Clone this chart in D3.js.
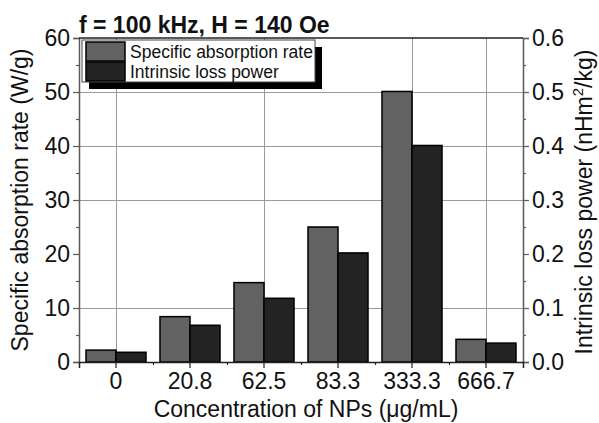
<!DOCTYPE html>
<html><head><meta charset="utf-8">
<script src="https://cdn.jsdelivr.net/npm/d3@7"></script>
<style>
body{margin:0;background:#fff;}
svg text{font-family:"Liberation Sans",Arial,sans-serif;}
</style></head>
<body><svg id="c" width="599" height="423"></svg>
<script>
const categories = ["0","20.8","62.5","83.3","333.3","666.7"];
const sarValues = [2.2, 8.4, 14.7, 25.0, 50.1, 4.2];
const ilpValues = [0.018, 0.068, 0.118, 0.202, 0.401, 0.035];
const leftTicks = [0,10,20,30,40,50,60];
const rightTicks = [0.0,0.1,0.2,0.3,0.4,0.5,0.6];
const hGrid = [10,30,40,50];
const vGridCats = ["0","62.5","333.3","666.7"];
const seriesNames = ["Specific absorption rate","Intrinsic loss power"];
const seriesColors = ["#626262","#232323"];

const svg = d3.select("#c");
const L=79, R=523, T=38, B=362;
const x0 = d3.scaleBand().domain(categories).range([L,R]).padding(0);
const x1 = d3.scaleBand().domain([0,1]).range([0,x0.bandwidth()]).paddingInner(0).paddingOuter(0.233);
const yL = d3.scaleLinear().domain([0,60]).range([B,T]);
const yR = d3.scaleLinear().domain([0,0.6]).range([B,T]);

// grid (dotted, rendered as fine gray lines)
const gridG = svg.append("g").attr("class","grid");
gridG.selectAll("rect.gh").data(hGrid).join("rect").attr("class","gh")
  .attr("x",L).attr("width",R-L)
  .attr("y",d=>Math.round(yL(d))).attr("height",1)
  .attr("fill","#9a9a9a");
gridG.selectAll("rect.gv").data(vGridCats).join("rect").attr("class","gv")
  .attr("x",d=>Math.round(x0(d)+x0.bandwidth()/2)).attr("width",1)
  .attr("y",T).attr("height",B-T)
  .attr("fill","#9a9a9a");

// bars
const groups = svg.append("g").selectAll("g").data(categories).join("g")
 .attr("transform",d=>`translate(${x0(d)},0)`);
groups.append("rect")
 .attr("x",x1(0)).attr("width",x1.bandwidth())
 .attr("y",(d,i)=>yL(sarValues[i])).attr("height",(d,i)=>B-yL(sarValues[i]))
 .attr("fill",seriesColors[0]).attr("stroke","#000").attr("stroke-width",1.5);
groups.append("rect")
 .attr("x",x1(1)).attr("width",x1.bandwidth())
 .attr("y",(d,i)=>yR(ilpValues[i])).attr("height",(d,i)=>B-yR(ilpValues[i]))
 .attr("fill",seriesColors[1]).attr("stroke","#000").attr("stroke-width",1.5);

// axes
const fs = 23;
const axL = svg.append("g").attr("transform",`translate(${L},0)`)
 .call(d3.axisLeft(yL).tickValues(leftTicks).tickSize(6).tickPadding(3).tickFormat(d3.format("d")));
const axLm = svg.append("g").attr("transform",`translate(${L},0)`)
 .call(d3.axisLeft(yL).tickValues(d3.range(5,60,10)).tickSize(3).tickFormat(""));
const axR = svg.append("g").attr("transform",`translate(${R},0)`)
 .call(d3.axisRight(yR).tickValues(rightTicks).tickSize(6).tickPadding(3).tickFormat(d3.format(".1f")));
const axRm = svg.append("g").attr("transform",`translate(${R},0)`)
 .call(d3.axisRight(yR).tickValues(d3.range(0.05,0.6,0.1)).tickSize(3).tickFormat(""));
const axB = svg.append("g").attr("transform",`translate(0,${B})`)
 .call(d3.axisBottom(x0).tickSize(6).tickPadding(5));
const axBm = svg.append("g").attr("transform",`translate(0,${B})`)
 .call(d3.axisBottom(d3.scaleLinear().domain([0,6]).range([L,R])).tickValues([1,2,3,4,5]).tickSize(3).tickFormat(""));
[axL,axLm,axR,axRm].forEach(a=>{a.select(".domain").attr("stroke","#5a5a5a").attr("stroke-width",1.5);a.selectAll(".tick line").attr("stroke","#5a5a5a").attr("stroke-width",1.2);});
[axB,axBm].forEach(a=>{a.select(".domain").attr("stroke","#222").attr("stroke-width",1.5);a.selectAll(".tick line").attr("stroke","#222").attr("stroke-width",1.2);});
[axLm,axRm,axBm].forEach(a=>a.select(".domain").remove());
svg.selectAll(".tick text").attr("font-size",fs).attr("fill","#111").style("font-family","'Liberation Sans',Arial,sans-serif");
// top border
svg.append("line").attr("x1",L).attr("x2",R).attr("y1",T).attr("y2",T).attr("stroke","#222").attr("stroke-width",1.5);

// axis titles
svg.append("text").attr("transform",`translate(28,${(T+B)/2}) rotate(-90)`)
 .attr("text-anchor","middle").attr("font-size",fs).attr("fill","#111")
 .text("Specific absorption rate (W/g)");
const rt = svg.append("text").attr("transform",`translate(592,${(T+B)/2+2}) rotate(-90)`)
 .attr("text-anchor","middle").attr("font-size",fs).attr("fill","#111");
rt.append("tspan").text("Intrinsic loss power (nHm");
rt.append("tspan").attr("font-size",15).attr("dy",-9).text("2");
rt.append("tspan").attr("dy",9).text("/kg)");
svg.append("text").attr("x",(L+R)/2+5).attr("y",417).attr("text-anchor","middle")
 .attr("font-size",fs).attr("fill","#111").text("Concentration of NPs (\u03bcg/mL)");

// title
svg.append("text").attr("x",79).attr("y",33).attr("font-size",fs).attr("font-weight","bold")
 .attr("fill","#111").text("f = 100 kHz, H = 140 Oe");

// legend
const lg = svg.append("g");
lg.append("rect").attr("x",89).attr("y",47).attr("width",233).attr("height",42).attr("fill","#000");
lg.append("rect").attr("x",82).attr("y",40).attr("width",233).attr("height",42).attr("fill","#fff").attr("stroke","#444").attr("stroke-width",1);
seriesNames.forEach((n,i)=>{
  lg.append("rect").attr("x",86).attr("y",42+i*20).attr("width",39).attr("height",19)
    .attr("fill",seriesColors[i]).attr("stroke","#000").attr("stroke-width",1.5);
  lg.append("text").attr("x",130).attr("y",58+i*20).attr("font-size",17.5).attr("fill","#111").text(n);
});
</script></body></html>
